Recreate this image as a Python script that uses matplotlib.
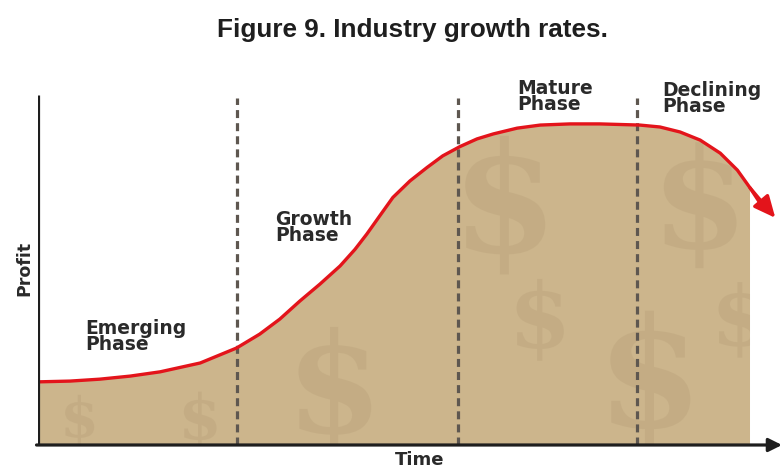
#!/usr/bin/env python3
"""
Industry life cycle chart: profit over time with the four phases.
"""

import matplotlib
matplotlib.use("Agg")
import matplotlib.pyplot as plt
from matplotlib.patches import Polygon, PathPatch
from matplotlib.textpath import TextPath
from matplotlib.font_manager import FontProperties
from matplotlib.transforms import Affine2D, ScaledTranslation

# Data (time and profit in arbitrary 0-100 units)
time = [0.0, 4.3, 8.3, 12.4, 16.4, 21.8, 26.7, 29.8, 32.5, 35.2, 37.9, 40.6,
        42.6, 44.2, 46.0, 47.7, 50.0, 52.3, 54.4, 56.7, 59.0, 61.2, 64.4,
        67.5, 71.5, 75.5, 80.9, 83.6, 86.3, 89.0, 91.7, 94.0, 95.7, 97.4]
profit = [16.4, 16.6, 17.1, 17.9, 19.0, 21.3, 25.2, 28.8, 32.7, 37.4, 41.8, 46.5,
          50.8, 54.8, 59.7, 64.3, 68.6, 72.1, 75.1, 77.5, 79.5, 80.8, 82.3,
          83.1, 83.4, 83.4, 83.1, 82.6, 81.3, 79.2, 75.8, 71.4, 66.8, 61.8]
arrow_tip = (99.1, 59.0)

phase_bounds = [26.7, 56.5, 80.5]
phase_names = ["Emerging\nPhase", "Growth\nPhase", "Mature\nPhase", "Declining\nPhase"]
phase_label_pos = [(6.3, 28.3), (31.9, 56.6), (64.4, 90.6), (83.9, 90.1)]

fill_end = 95.7  # shaded area stops here

# background "$" watermark: (time, profit, size in pt)
dollar_marks = [(62.8, 62.3, 110), (67.5, 32.5, 65), (82.3, 16.9, 110),
                (89.0, 62.3, 100), (94.4, 32.5, 60), (39.9, 14.3, 100),
                (5.6, 6.5, 40), (21.8, 6.5, 45)]

# Colors
TAN = "#ccb58c"
DOLLAR = "#b39a74"
RED = "#e3141b"
DASH = "#5e5750"
INK = "#1e1e1e"
LABEL = "#2a2a2a"

fig = plt.figure(figsize=(7.82, 4.68), dpi=100)
ax = fig.add_axes([38 / 782, 23 / 468, 744 / 782, 385 / 468])
ax.set_xlim(0, 100)
ax.set_ylim(0, 100)
ax.axis("off")

# shaded area under the curve
t_fill = [t for t in time if t <= fill_end]
p_fill = profit[:len(t_fill)]
poly = Polygon([(0, 0)] + list(zip(t_fill, p_fill)) + [(t_fill[-1], 0)],
               closed=True, facecolor=TAN, edgecolor="none", zorder=1)
ax.add_patch(poly)

# faint dollar signs, clipped to the shaded area
fp = FontProperties(family="DejaVu Serif", weight="bold")
for dx, dy, size in dollar_marks:
    tp = TextPath((0, 0), "$", size=size, prop=fp)
    ext = tp.get_extents()
    tr = (Affine2D().translate(-(ext.x0 + ext.x1) / 2, -(ext.y0 + ext.y1) / 2)
          .scale(fig.dpi / 72) + ScaledTranslation(dx, dy, ax.transData))
    mark = PathPatch(tp, transform=tr, facecolor=DOLLAR, edgecolor="none",
                     alpha=0.3, zorder=2)
    mark.set_clip_path(poly)
    ax.add_patch(mark)

# phase dividers
for b in phase_bounds:
    ax.plot([b, b], [0, 90.1], color=DASH, lw=2.3, dashes=(2.5, 1.6), zorder=3)

# profit curve
ax.plot(time, profit, color=RED, lw=2.4, solid_capstyle="round",
        solid_joinstyle="round", zorder=4)
ax.annotate("", xy=arrow_tip, xytext=(time[-2], profit[-2]),
            arrowprops=dict(arrowstyle="-|>,head_length=1.3,head_width=0.6",
                            color=RED, lw=2.4, shrinkA=0, shrinkB=0),
            zorder=5, annotation_clip=False)

# axes lines
ax.plot([0, 0], [0, 90.9], color=INK, lw=2.3, solid_capstyle="butt", zorder=6)
ax.annotate("", xy=(100, 0), xytext=(-0.2, 0),
            arrowprops=dict(arrowstyle="-|>,head_length=0.8,head_width=0.4",
                            color=INK, lw=2.3, shrinkA=0, shrinkB=0),
            zorder=6, annotation_clip=False)

# phase labels
for name, (x, y) in zip(phase_names, phase_label_pos):
    ax.text(x, y, name, fontsize=13.5, fontweight="bold", color=LABEL,
            ha="left", va="center", linespacing=0.8,
            fontfamily="DejaVu Sans", zorder=7)

fig.text(24 / 782, 1 - 268 / 468, "Profit", rotation=90, fontsize=12.5,
         fontweight="bold", color=LABEL, ha="center", va="center",
         fontfamily="DejaVu Sans")
fig.text(420 / 782, 1 - 465 / 468, "Time", fontsize=13, fontweight="bold",
         color=LABEL, ha="center", va="baseline", fontfamily="DejaVu Sans")
fig.text(412 / 782, 1 - 37 / 468, "Figure 9. Industry growth rates.",
         fontsize=18.8, fontweight="bold", color=INK, ha="center",
         va="baseline", fontfamily="Liberation Sans", fontstretch="normal")

fig.savefig("out.png", dpi=100)
